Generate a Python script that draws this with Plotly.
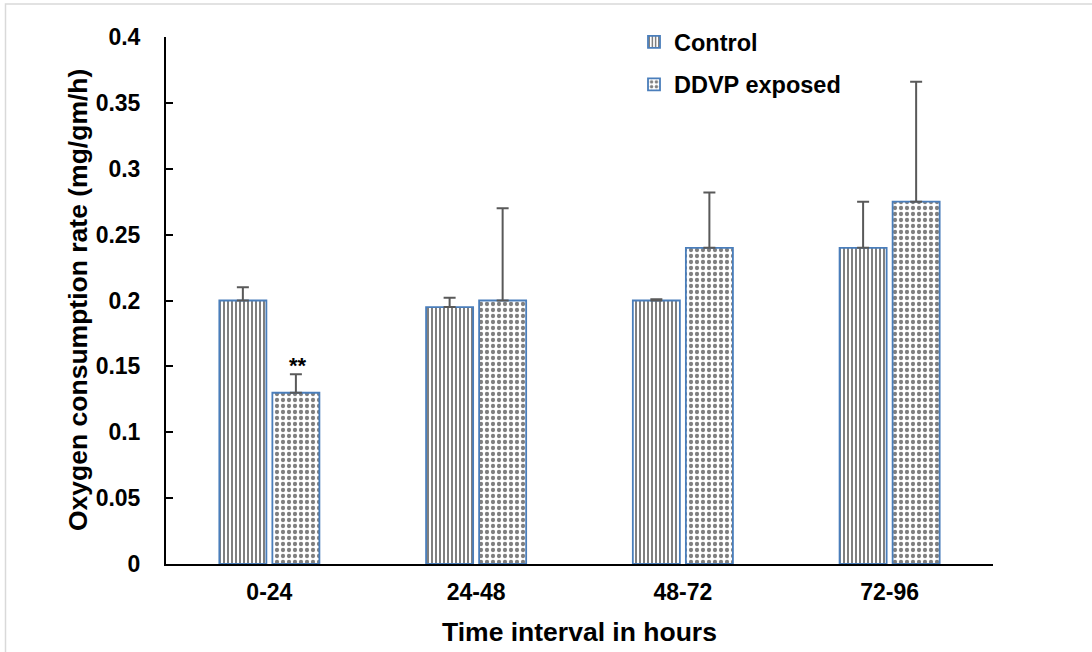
import plotly.graph_objects as go

categories = ["0-24", "24-48", "48-72", "72-96"]
control_vals = [0.200, 0.195, 0.200, 0.240]
control_err = [0.010, 0.007, 0.001, 0.035]
ddvp_vals = [0.130, 0.200, 0.240, 0.275]
ddvp_err = [0.014, 0.070, 0.042, 0.091]
y_ticks = [0, 0.05, 0.1, 0.15, 0.2, 0.25, 0.3, 0.35, 0.4]
y_ticktext = ["0", "0.05", "0.1", "0.15", "0.2", "0.25", "0.3", "0.35", "0.4"]

FONT = "Liberation Sans, Arial, sans-serif"
BORDER = "#4a7ebb"
ERRC = "#595959"

fig = go.Figure()
fig.add_trace(go.Bar(
    name="Control", x=categories, y=control_vals, legendgroup="a",
    marker=dict(color="white", line=dict(color=BORDER, width=1.8),
                pattern=dict(shape="|", fgcolor="black", bgcolor="white",
                             size=4, solidity=0.5)),
    error_y=dict(type="data", array=control_err, arrayminus=[0]*4, symmetric=False,
                 color=ERRC, thickness=2, width=6),
))
fig.add_trace(go.Bar(
    name="DDVP exposed", x=categories, y=ddvp_vals, legendgroup="b",
    marker=dict(color="white", line=dict(color=BORDER, width=1.8),
                pattern=dict(shape=".", fgcolor="black", bgcolor="white",
                             size=6, solidity=0.4)),
    error_y=dict(type="data", array=ddvp_err, arrayminus=[0]*4, symmetric=False,
                 color=ERRC, thickness=2, width=6),
))

L, R, T, B = 166, 99, 37, 88
W, H = 1092, 652
pw, ph = W - L - R, H - T - B

def px_x(p):
    return (p - L) / pw

def px_y(p):
    return (H - B - p) / ph

fig.add_annotation(x=categories[0], y=ddvp_vals[0] + ddvp_err[0], xref="x", yref="y",
                   text="**", showarrow=False, xshift=29, yanchor="bottom", yshift=-6,
                   font=dict(family=FONT, size=22, color="black", weight="bold"))
fig.add_annotation(x=px_x(78), y=px_y(300), xref="paper", yref="paper",
                   text="Oxygen consumption rate (mg/gm/h)", textangle=-90,
                   showarrow=False, xanchor="center", yanchor="middle",
                   font=dict(family=FONT, size=26.5, color="black", weight="bold"))
fig.add_annotation(x=0.5, y=px_y(632), xref="paper", yref="paper",
                   text="Time interval in hours",
                   showarrow=False, xanchor="center", yanchor="middle",
                   font=dict(family=FONT, size=26.5, color="black", weight="bold"))

fig.add_shape(type="rect", xref="paper", yref="paper",
              x0=px_x(5.5), x1=px_x(1100), y0=px_y(660), y1=px_y(4),
              line=dict(color="#d9d9d9", width=1.5), layer="below")

fig.update_layout(
    width=W, height=H,
    margin=dict(l=L, r=R, t=T, b=B, autoexpand=False),
    paper_bgcolor="white", plot_bgcolor="white",
    barmode="group", bargap=0.487, bargroupgap=0.113,
    font=dict(family=FONT, color="black"),
    legend=dict(x=px_x(634), y=px_y(20), xanchor="left", yanchor="top",
                bgcolor="rgba(0,0,0,0)", tracegroupgap=9,
                font=dict(family=FONT, size=23.5, color="black", weight="bold")),
    xaxis=dict(showline=True, linecolor="black", linewidth=2, ticks="",
               showgrid=False, ticklabelstandoff=6,
               tickfont=dict(family=FONT, size=23, color="black", weight="bold")),
    yaxis=dict(range=[0, 0.4], tickvals=y_ticks, ticktext=y_ticktext,
               showline=True, linecolor="black", linewidth=2,
               ticks="inside", ticklen=7, tickwidth=2, tickcolor="black",
               showgrid=False, zeroline=False, ticklabelstandoff=19,
               tickfont=dict(family=FONT, size=23, color="black", weight="bold")),
)

fig.write_html("out.html")
